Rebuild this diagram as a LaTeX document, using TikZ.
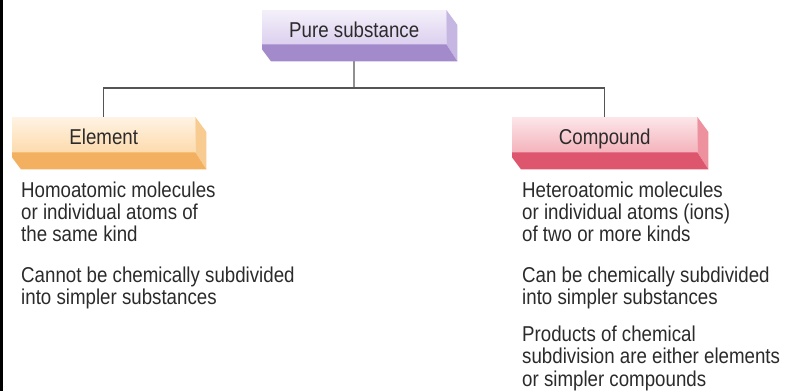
\documentclass[tikz,border=0pt]{standalone}
\usepackage{fontspec}
\setmainfont{Liberation Sans}[FakeStretch=0.87]
\usetikzlibrary{calc}
\pgfdeclarelayer{paper}
\pgfdeclarelayer{background}
\pgfsetlayers{paper,background,main}
\definecolor{txt}{HTML}{2B2B2B}
\definecolor{linec}{HTML}{555555}
\definecolor{puA}{HTML}{F4F0FA}\definecolor{puB}{HTML}{DCD0EF}\definecolor{puR}{HTML}{C6B6E2}\definecolor{puD}{HTML}{A38BCB}
\definecolor{elA}{HTML}{FFF3E3}\definecolor{elB}{HTML}{FDDBAD}\definecolor{elR}{HTML}{F8CB90}\definecolor{elD}{HTML}{F2B060}
\definecolor{coA}{HTML}{FCE6E9}\definecolor{coB}{HTML}{F4B3BC}\definecolor{coR}{HTML}{EE919F}\definecolor{coD}{HTML}{DD566E}
\tikzset{
  frontface/.style={anchor=north west, inner sep=0pt, text=txt,
    font=\fontsize{21.5}{22.3}\selectfont, text height=20pt, text depth=0pt},
  bodytext/.style={anchor=base west, align=left, inner sep=0pt, text=txt,
    font=\fontsize{21.5}{22.3}\selectfont},
  connector/.style={draw=linec, line width=1.2pt}
}
\newcommand\prismfaces[3]{%
  \fill[#2] (#1.north east) -- ++(11pt,-15pt) -- ($(#1.south east)+(11pt,-17pt)$) -- (#1.south east) -- cycle;
  \fill[#3] (#1.south west) -- (#1.south east) -- ++(11pt,-17pt) -- ($(#1.south west)+(9pt,-17pt)$) -- ($(#1.south west)+(0pt,-5pt)$) -- cycle;
}
\begin{document}
\begin{tikzpicture}[x=1pt,y=-1pt]
\useasboundingbox (0,0) rectangle (785,391);
\begin{pgfonlayer}{paper}
\fill[white] (0,0) rectangle (785,391);
\fill[black] (0,0) rectangle (3,391);
\end{pgfonlayer}

\node[frontface, minimum width=184pt, minimum height=34pt, top color=puA, bottom color=puB] (pure) at (262,10) {Pure substance};
\prismfaces{pure}{puR}{puD}
\node[frontface, minimum width=183pt, minimum height=35pt, top color=elA, bottom color=elB] (element) at (12,117) {Element};
\prismfaces{element}{elR}{elD}
\node[frontface, minimum width=185pt, minimum height=35pt, top color=coA, bottom color=coB] (compound) at (512,117) {Compound};
\prismfaces{compound}{coR}{coD}

\coordinate (split) at (354,88);
\begin{pgfonlayer}{background}
\draw[connector] (pure.center) -- (split);
\draw[connector] (split) -| (element.center);
\draw[connector] (split) -| (compound.center);
\end{pgfonlayer}

% anchor = baseline of the last line
\node[bodytext] (el1) at (21,241.6) {Homoatomic molecules\\or individual atoms of\\the same kind};
\node[bodytext] (el2) at (21,304.3) {Cannot be chemically subdivided\\into simpler substances};

\node[bodytext] (co1) at (522,241.6) {Heteroatomic molecules\\or individual atoms (ions)\\of two or more kinds};
\node[bodytext] (co2) at (522,304.3) {Can be chemically subdivided\\into simpler substances};
\node[bodytext] (co3) at (522,386) {Products of chemical\\subdivision are either elements\\or simpler compounds};
\end{tikzpicture}
\end{document}
